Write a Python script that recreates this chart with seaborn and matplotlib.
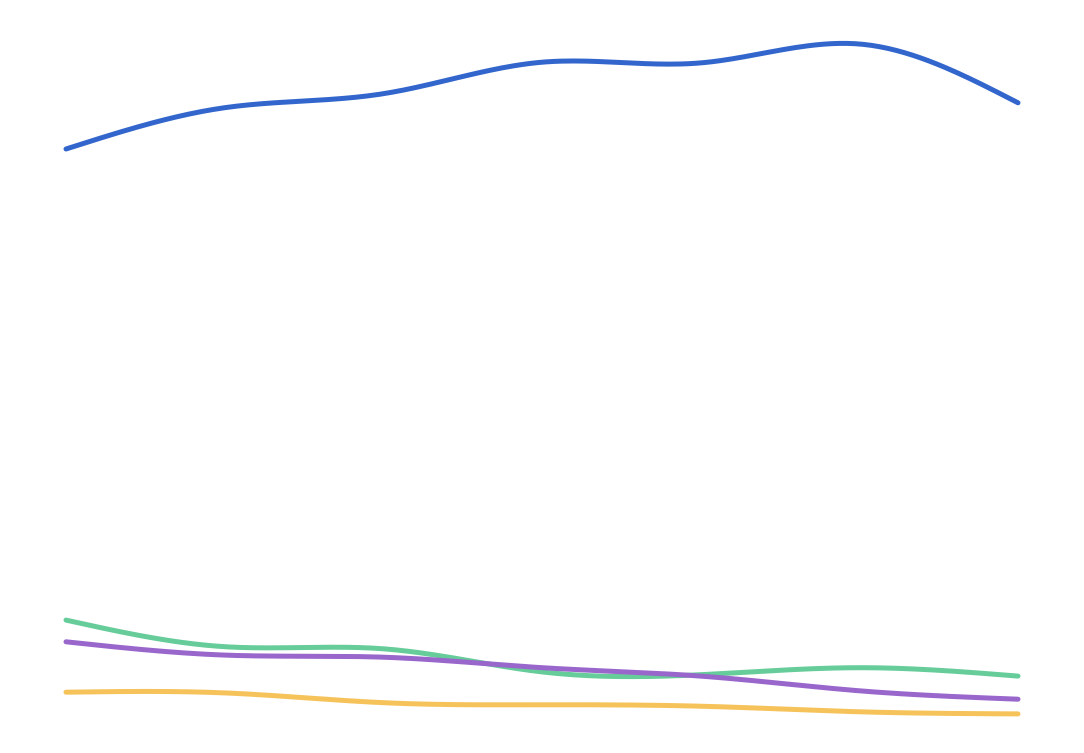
import numpy as np
import pandas as pd
import matplotlib
matplotlib.use("Agg")
import matplotlib.pyplot as plt
import seaborn as sns

# data (7 evenly spaced points per series)
steps = [0, 1, 2, 3, 4, 5, 6]
blue = [83.0, 88.9, 90.9, 95.4, 95.3, 98.0, 89.6]
green = [15.7, 11.9, 11.6, 8.3, 7.9, 8.9, 7.7]
purple = [12.6, 10.7, 10.4, 8.9, 7.7, 5.6, 4.4]
yellow = [5.4, 5.3, 3.9, 3.6, 3.4, 2.6, 2.3]

series = {"blue": blue, "green": green, "purple": purple, "yellow": yellow}
colors = {"blue": "#3366cc", "green": "#66cc99", "purple": "#9966cc", "yellow": "#f6c35a"}


def smooth_curve(x, y, n=40):
    # natural cubic spline, only used to draw the line smoothly
    x = np.asarray(x, float)
    y = np.asarray(y, float)
    k = len(x)
    h = np.diff(x)
    A = np.zeros((k, k))
    b = np.zeros(k)
    A[0, 0] = A[-1, -1] = 1
    for i in range(1, k - 1):
        A[i, i - 1] = h[i - 1]
        A[i, i] = 2 * (h[i - 1] + h[i])
        A[i, i + 1] = h[i]
        b[i] = 6 * ((y[i + 1] - y[i]) / h[i] - (y[i] - y[i - 1]) / h[i - 1])
    M = np.linalg.solve(A, b)
    xs, ys = [], []
    for i in range(k - 1):
        u = np.linspace(x[i], x[i + 1], n, endpoint=(i == k - 2))
        a = x[i + 1] - u
        c = u - x[i]
        s = (M[i] * a**3 + M[i + 1] * c**3) / (6 * h[i]) \
            + (y[i] / h[i] - M[i] * h[i] / 6) * a \
            + (y[i + 1] / h[i] - M[i + 1] * h[i] / 6) * c
        xs.append(u)
        ys.append(s)
    return np.concatenate(xs), np.concatenate(ys)


rows = []
for name, vals in series.items():
    cx, cy = smooth_curve(steps, vals)
    rows.append(pd.DataFrame({"x": cx, "y": cy, "series": name}))
df = pd.concat(rows, ignore_index=True)

fig = plt.figure(figsize=(10.84, 7.53), dpi=100)
ax = fig.add_axes([66 / 1084, 0, (1018 - 66) / 1084, 1])
sns.lineplot(data=df, x="x", y="y", hue="series", palette=colors, sort=False,
             linewidth=3.6, legend=False, ax=ax)
for line in ax.get_lines():
    line.set_solid_capstyle("round")
    line.set_clip_on(False)
ax.set_xlim(0, 6)
ax.set_ylim(-23 / 7, 730 / 7)
ax.axis("off")
fig.savefig("out.png", dpi=100, facecolor="white")
